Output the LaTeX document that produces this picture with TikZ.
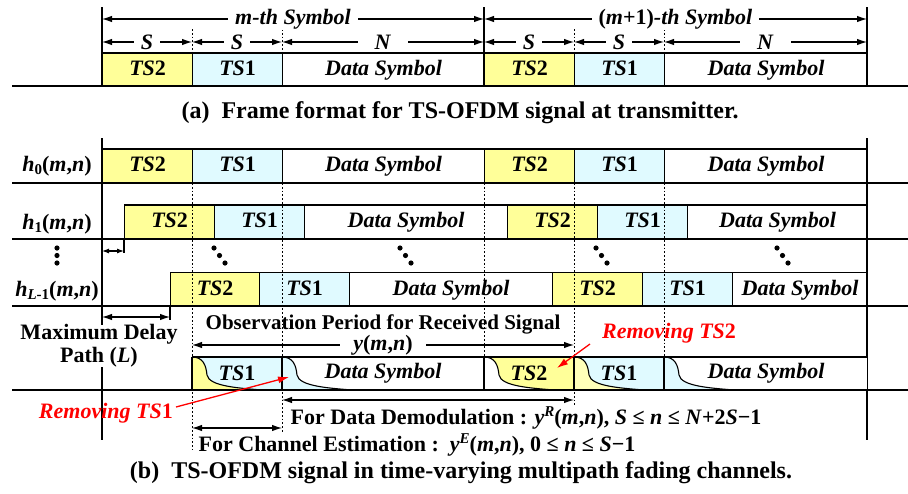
\documentclass[tikz,border=0pt]{standalone}
\usepackage{fontspec}
\setmainfont{Liberation Serif}
\usetikzlibrary{arrows.meta}
\definecolor{tsy}{RGB}{255,255,153}
\definecolor{tsyl}{RGB}{255,255,185}
\definecolor{tsb}{RGB}{224,250,255}
\newcommand{\mysub}[1]{\raisebox{-0.35ex}{\fontsize{15}{15}\selectfont #1}}
\newcommand{\mysup}[1]{\raisebox{0.85ex}{\fontsize{15}{15}\selectfont #1}}
\newcommand{\TSb}{\textit{TS}2}
\newcommand{\TSa}{\textit{TS}1}
\newcommand{\DS}{\textit{Data Symbol}}
\newcommand{\tailpath}[1]{(#1,357) .. controls (#1+11,357) and (#1+14,365) .. (#1+15,375) .. controls (#1+17,386) and (#1+45,388) .. (#1+70,390)}
\begin{document}
\begin{tikzpicture}[x=1pt,y=-1pt,
  every node/.style={font=\bfseries\fontsize{22}{24}\selectfont, inner sep=0pt},
  boxa/.style={draw, line width=1.2pt, anchor=west, minimum height=33pt, text height=15pt, text depth=4pt},
  boxb/.style={boxa, minimum height=34pt},
  yb/.style={anchor=west, minimum height=33pt},
  ln/.style={line width=1.2pt},
  dots/.style={line width=1pt, dash pattern=on 1.8pt off 2pt},
  dim/.style={line width=1.1pt, {Latex[length=10pt,width=6.5pt]}-{Latex[length=10pt,width=6.5pt]}},
  sdim/.style={line width=1.1pt, {Latex[length=7pt,width=5pt]}-{Latex[length=7pt,width=5pt]}},
  lab/.style={fill=white, inner xsep=7pt, inner ysep=1pt},
  capt/.style={font=\bfseries\fontsize{24}{26}\selectfont},
  remtext/.style={text=red, font=\bfseries\itshape\fontsize{22}{24}\selectfont},
  redarr/.style={draw=red, line width=1.3pt, -{Latex[length=11pt,width=7pt]}}
]
\fill[white] (0,0) rectangle (908,493);
\useasboundingbox (0,0) rectangle (908,493);

% ---------------- (a) ----------------
\node[boxa, fill=tsy, minimum width=90pt] (a1) at (102,69.5) {\TSb};
\node[boxa, fill=tsb, minimum width=90pt] (a2) at (192,69.5) {\TSa};
\node[boxa, minimum width=202pt] (a3) at (282,69.5) {\DS};
\node[boxa, fill=tsy, minimum width=90pt] (a4) at (484,69.5) {\TSb};
\node[boxa, fill=tsb, minimum width=90pt] (a5) at (574,69.5) {\TSa};
\node[boxa, minimum width=203pt] (a6) at (664,69.5) {\DS};
\draw[ln] (12,86) -- (908,86);
\draw[ln] (102,7) -- (102,86);
\draw[ln] (484,7) -- (484,86);
\draw[ln] (867,7) -- (867,86);
\foreach \x in {192,282,574,664} \draw[dots] (\x,29) -- (\x,53);
\draw[dim] (102,19) -- (484,19) node[midway, lab] (ma) {\textit{m-th Symbol}};
\draw[dim] (484,19) -- (867,19) node[midway, lab] (mb) {(\textit{m}+1)\textit{-th Symbol}};
\draw[dim] (102,42) -- (192,42) node[midway, lab] (s1) {\textit{S}};
\draw[dim] (192,42) -- (282,42) node[midway, lab] (s2) {\textit{S}};
\draw[dim] (282,42) -- (484,42) node[midway, lab, inner xsep=17pt] (n1) {\textit{N}};
\draw[dim] (484,42) -- (574,42) node[midway, lab] (s3) {\textit{S}};
\draw[dim] (574,42) -- (664,42) node[midway, lab] (s4) {\textit{S}};
\draw[dim] (664,42) -- (867,42) node[midway, lab, inner xsep=17pt] (n2) {\textit{N}};
\node[capt] (capa) at (460,113) {(a)\ \ Frame format for TS-OFDM signal at transmitter.};

% ---------------- (b) ----------------
\draw[ln] (102,138) -- (102,440);
\draw[ln] (867,138) -- (867,440);
% h0
\node[boxb, fill=tsy, minimum width=90pt] (p1) at (102,166) {\TSb};
\node[boxb, fill=tsb, minimum width=90pt] (p2) at (192,166) {\TSa};
\node[boxb, minimum width=202pt] (p3) at (282,166) {\DS};
\node[boxb, fill=tsy, minimum width=90pt] (p4) at (484,166) {\TSb};
\node[boxb, fill=tsb, minimum width=90pt] (p5) at (574,166) {\TSa};
\node[boxb, minimum width=203pt] (p6) at (664,166) {\DS};
\draw[ln] (12,183) -- (908,183);
% h1
\node[boxb, fill=tsy, minimum width=90pt] (q1) at (124,222) {\TSb};
\node[boxb, fill=tsb, minimum width=90pt] (q2) at (214,222) {\TSa};
\node[boxb, minimum width=203pt] (q3) at (304,222) {\DS};
\node[boxb, fill=tsy, minimum width=90pt] (q4) at (507,222) {\TSb};
\node[boxb, fill=tsb, minimum width=90pt] (q5) at (597,222) {\TSa};
\node[boxb, minimum width=180pt] (q6) at (687,222) {\DS};
\draw[ln] (12,239) -- (908,239);
% hL-1
\node[boxb, fill=tsy, minimum width=89pt] (r1) at (170,289.5) {\TSb};
\node[boxb, fill=tsb, minimum width=90pt] (r2) at (259,289.5) {\TSa};
\node[boxb, minimum width=203pt] (r3) at (349,289.5) {\DS};
\node[boxb, fill=tsy, minimum width=90pt] (r4) at (552,289.5) {\TSb};
\node[boxb, fill=tsb, minimum width=90pt] (r5) at (642,289.5) {\TSa};
\node[boxb, minimum width=135pt] (r6) at (732,289.5) {\DS};
\draw[ln] (12,306) -- (908,306);

% row labels
\node (l0) at (57,166) {\textit{h}\mysub{0}(\textit{m},\textit{n})};
\node (l1) at (57,224) {\textit{h}\mysub{1}(\textit{m},\textit{n})};
\node (l2) at (57,291) {\textit{h}\mysub{\textit{L}-1}(\textit{m},\textit{n})};

% vertical dots
\foreach \yy in {248,255.5,263} \fill (57,\yy) circle (2.6pt);
% diagonal dots
\foreach \xx in {214,400,596,777} {
  \fill (\xx,248) circle (2.6pt);
  \fill (\xx+5.5,255.5) circle (2.6pt);
  \fill (\xx+11,263) circle (2.6pt);
}

% delay arrows
\draw[ln] (124,239) -- (124,253);
\draw[sdim] (102,251) -- (124,251);
\draw[ln] (170,306) -- (170,320);
\draw[dim] (102,317) -- (170,317);

% dotted guides
\draw[dots] (192,183) -- (192,450);
\draw[dots] (282,183) -- (282,432);
\draw[dots] (484,183) -- (484,357);
\draw[dots] (574,183) -- (574,405);
\draw[dots] (664,183) -- (664,357);

% max delay text
\node[align=center, fill=white, font=\bfseries\fontsize{22}{23}\selectfont] (md) at (99,346) {Maximum Delay\\Path (\textit{L})};

% observation
\node[font=\bfseries\fontsize{21}{23}\selectfont] (obs) at (383,324) {Observation Period for Received Signal};
\draw[dim] (192,345) -- (574,345) node[midway, lab, inner xsep=13pt] (ymn) {\textit{y}(\textit{m},\textit{n})};

% received y row
\node[yb, fill=tsb, minimum width=90pt] (y1) at (192,373.5) {};
\node[yb, fill=white, minimum width=202pt] (y2) at (282,373.5) {};
\node[yb, fill=tsy, minimum width=90pt] (y3) at (484,373.5) {};
\node[yb, fill=tsb, minimum width=90pt] (y4) at (574,373.5) {};
\node[yb, fill=white, minimum width=203pt] (y5) at (664,373.5) {};
\fill[tsy] \tailpath{192} -- (192,390) -- cycle;
\fill[tsb] \tailpath{282} -- (282,390) -- cycle;
\fill[white] \tailpath{484} -- (484,390) -- cycle;
\fill[tsyl] \tailpath{574} -- (574,390) -- cycle;
\fill[tsb] \tailpath{664} -- (664,390) -- cycle;
\foreach \x in {192,282,484,574,664} \draw[line width=1.1pt] \tailpath{\x};
\draw[ln] (192,357) -- (867,357);
\draw[ln] (12,390) -- (908,390);
\foreach \x in {192,282,484,574,664} \draw[ln] (\x,357) -- (\x,390);
\node (t1) at (237,373.5) {\TSa};
\node (t2) at (383,373.5) {\DS};
\node (t3) at (529,373.5) {\TSb};
\node (t4) at (619,373.5) {\TSa};
\node (t5) at (766,373.5) {\DS};

% red annotations
\node[remtext, anchor=east] (rm1) at (173,413) {Removing \textit{TS}\textup{1}};
\node[remtext] (rm2) at (669,333) {Removing \textit{TS}\textup{2}};
\coordinate (rm1s) at (176,407);
\coordinate (rm1e) at (289,377);
\coordinate (rm2s) at (590,344);
\coordinate (rm2e) at (557,368);
\draw[redarr] (rm1s) -- (rm1e);
\draw[redarr] (rm2s) -- (rm2e);

% demod / estimation
\draw[dim] (282,400) -- (574,400);
\node (dem) at (526,418) {For Data Demodulation : \textit{y}\mysup{\textit{R}}(\textit{m},\textit{n}), \textit{S} ≤ \textit{n} ≤ \textit{N}+2\textit{S}−1};
\draw[dim] (192,428) -- (282,428);
\node (est) at (417,445) {For Channel Estimation :\ \ \textit{y}\mysup{\textit{E}}(\textit{m},\textit{n}), 0 ≤ \textit{n} ≤ \textit{S}−1};

\node[capt] (capb) at (461,473) {(b)\ \ TS-OFDM signal in time-varying multipath fading channels.};
\end{tikzpicture}
\end{document}
